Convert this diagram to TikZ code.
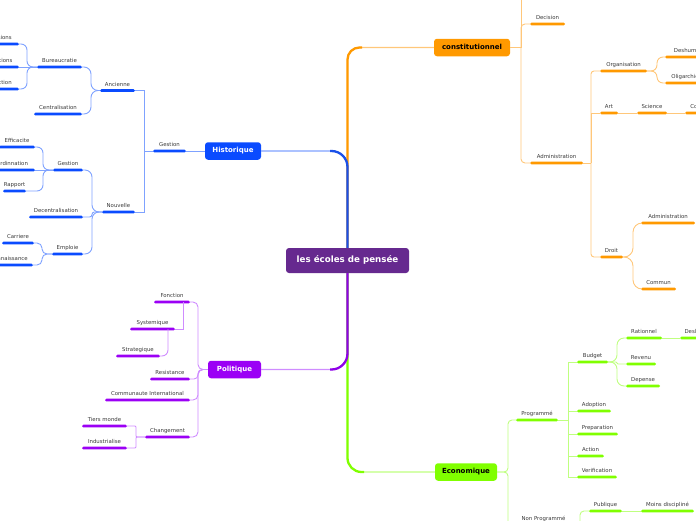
\documentclass[tikz,border=0pt]{standalone}
\usepackage{fontspec}
\setmainfont{DejaVu Sans}
\definecolor{cO}{HTML}{FF9900}
\definecolor{lO}{HTML}{FFC77A}
\definecolor{cB}{HTML}{0A4BFF}
\definecolor{sB}{HTML}{1A50E8}
\definecolor{lB}{HTML}{7FA2FF}
\definecolor{cP}{HTML}{9B00F5}
\definecolor{sP}{HTML}{8F00E8}
\definecolor{lP}{HTML}{CF8CFF}
\definecolor{cG}{HTML}{80FF00}
\definecolor{lG}{HTML}{BFFF80}
\definecolor{cR}{HTML}{66298F}
\definecolor{labelgray}{HTML}{3A3A3A}
\tikzset{
  lbl/.style={font=\fontsize{5.4}{6}\selectfont, text=labelgray, inner sep=0.8pt, text height=4pt, text depth=1pt},
  topic/.style={rectangle, rounded corners=1.3pt, fill=#1, minimum height=2.6pt, inner sep=0pt, outer sep=0pt},
  mainbox/.style={rectangle, rounded corners=3pt, fill=#1, inner sep=0pt, minimum height=17.5pt,
     font=\fontsize{7}{8}\selectfont\bfseries, text height=5.2pt, text depth=1.4pt},
  conn/.style={draw=#1, line width=0.9pt},
  trunkl/.style={draw=#1, line width=1.3pt},
  trunks/.style={draw=#1, line width=2.3pt},
}
\newcommand\tp[6]{\node[topic=#1, minimum width=#2pt, label={[lbl]above:#6}] (#3) at (#4,#5) {};}
\begin{document}
\begin{tikzpicture}[x=1pt,y=-1pt,label distance=1pt]
\useasboundingbox (0,0) rectangle (696,520);
\clip (0,0) rectangle (696,520);
% ---------- main boxes ----------
\node[mainbox=cR, text=white, minimum width=123pt, minimum height=25pt,
      font=\fontsize{8.7}{10}\selectfont\bfseries] (root) at (347.5,260.5) {les écoles de pensée};
\node[mainbox=cO, text=black, minimum width=76pt] (const) at (472,47.5) {constitutionnel};
\node[mainbox=cB, text=white, minimum width=56pt] (hist) at (233,151) {Historique};
\node[mainbox=cP, text=white, minimum width=53pt] (pol) at (234.5,369.5) {Politique};
\node[mainbox=cG, text=black, minimum width=62pt] (eco) at (466,472) {Economique};
% ---------- orange topics ----------
\tp{cO}{35}{decision}{547.5}{24}{Decision}
\tp{cO}{53}{adm1}{556.5}{163}{Administration}
\tp{cO}{47}{org}{623.5}{71}{Organisation}
\tp{cO}{65}{deshu}{697.5}{57}{Deshumanisation}
\tp{cO}{40}{olig}{685}{83}{Oligarchie}
\tp{cO}{18}{art}{609}{113}{Art}
\tp{cO}{30}{science}{652}{113}{Science}
\tp{cO}{48}{co}{709}{113}{Connaissance}
\tp{cO}{23}{droit}{611.5}{257}{Droit}
\tp{cO}{54}{adm2}{668}{223}{Administration}
\tp{cO}{35}{commun}{658.5}{289}{Commun}
% ---------- blue topics ----------
\tp{cB}{33}{gestion1}{169.5}{151}{Gestion}
\tp{cB}{35}{ancienne}{117.5}{90.5}{Ancienne}
\tp{cB}{33}{nouvelle}{118.5}{212}{Nouvelle}
\tp{cB}{45}{bureau}{59.5}{67}{Bureaucratie}
\tp{cB}{48}{central}{58}{114}{Centralisation}
\tp{cB}{39}{bA}{-0.5}{44}{Divisions}
\tp{cB}{39}{bB}{-0.5}{67}{Fonctions}
\tp{cB}{39}{bC}{-0.5}{89}{Direction}
\tp{cB}{30}{gestion2}{68}{170}{Gestion}
\tp{cB}{54}{decentral}{56}{217}{Decentralisation}
\tp{cB}{31}{emploie}{67.5}{254}{Emploie}
\tp{cB}{36}{effic}{17}{147}{Efficacite}
\tp{cB}{52}{coord}{9}{170}{Coordinnation}
\tp{cB}{23}{rapport}{14.5}{191}{Rapport}
\tp{cB}{32}{carriere}{18}{243}{Carriere}
\tp{cB}{54}{reconn}{6}{265}{Reconnaissance}
% ---------- purple topics ----------
\tp{cP}{36}{fonction}{172}{302}{Fonction}
\tp{cP}{45}{systemique}{152.5}{329}{Systemique}
\tp{cP}{44}{strategique}{138}{356}{Strategique}
\tp{cP}{40}{resistance}{170}{379}{Resistance}
\tp{cP}{85}{communaute}{147.5}{400}{Communaute International}
\tp{cP}{45}{changement}{167.5}{437}{Changement}
\tp{cP}{45}{tiers}{104.5}{426}{Tiers monde}
\tp{cP}{45}{indus}{104.5}{448}{Industrialise}
% ---------- green topics ----------
\tp{cG}{42}{programme}{537}{420}{Programmé}
\tp{cG}{31}{budget}{592.5}{362}{Budget}
\tp{cG}{34}{adoption}{594}{411}{Adoption}
\tp{cG}{41}{preparation}{597.5}{434}{Preparation}
\tp{cG}{27}{action}{590.5}{456}{Action}
\tp{cG}{40}{verification}{597}{477}{Verification}
\tp{cG}{36}{rationnel}{644}{338}{Rationnel}
\tp{cG}{30}{revenu}{641}{364}{Revenu}
\tp{cG}{34}{depense}{643}{386}{Depense}
\tp{cG}{50}{desl}{705}{338}{Deslocalisation}
\tp{cG}{55}{nonprog}{543.5}{525}{Non Programmé}
\tp{cG}{33}{publique}{605.5}{511}{Publique}
\tp{cG}{53}{moins}{667.5}{511}{Moins discipliné}
% ---------- coordinates ----------
\coordinate (jc) at (521,47.5);
\coordinate (ctop) at (521,-20);
\coordinate (ja) at (591,163);
\coordinate (jnp) at (580,525);
\coordinate (npbot) at (580,545);
% ---------- trunk connectors ----------
\draw[trunkl=lO, rounded corners=12pt] (root.north) |- (const.west);
\draw[trunks=cO, rounded corners=12pt] (root.north) |- (362,47.5);
\draw[trunkl=lB, rounded corners=16pt] (root.north) |- (hist.east);
\draw[trunks=sB, rounded corners=16pt] (root.north) |- (330,151);
\draw[trunkl=lG, rounded corners=14pt] (root.south) |- (eco.west);
\draw[trunks=cG, rounded corners=14pt] (root.south) |- (364,472);
\draw[trunkl=lP, rounded corners=16pt] (root.south) |- (pol.east);
\draw[trunks=sP, rounded corners=16pt] (root.south) |- (330,369.5);
% ---------- orange connectors ----------
\draw[conn=lO] (const.east) -- (jc);
\draw[conn=lO] (ctop) -- (jc);
\draw[conn=lO, rounded corners=4pt] (jc) |- (decision.west);
\draw[conn=lO, rounded corners=4pt] (jc) |- (adm1.west);
\draw[conn=lO] (adm1.east) -- (ja);
\draw[conn=lO, rounded corners=3pt] (ja) |- (org.west);
\draw[conn=lO] (ja) |- (art.west);
\draw[conn=lO, rounded corners=3pt] (ja) |- (droit.west);
\draw[conn=lO] (art.east) -- (science.west);
\draw[conn=lO] (science.east) -- (co.west);
\draw[conn=lO, rounded corners=6pt] (org.east) -- (657,71) |- (deshu.west);
\draw[conn=lO, rounded corners=6pt] (org.east) -- (657,71) |- (olig.west);
\draw[conn=lO, rounded corners=9pt] (droit.east) -- (633,257) |- (adm2.west);
\draw[conn=lO, rounded corners=9pt] (droit.east) -- (633,257) |- (commun.west);
% ---------- blue connectors ----------
\draw[conn=lB] (hist.west) -- (gestion1.east);
\draw[conn=lB] (gestion1.west) -- (144,151) |- (ancienne.east);
\draw[conn=lB] (gestion1.west) -- (144,151) |- (nouvelle.east);
\draw[conn=lB, rounded corners=7pt] (ancienne.west) -- (91,90.5) |- (bureau.east);
\draw[conn=lB, rounded corners=7pt] (ancienne.west) -- (91,90.5) |- (central.east);
\draw[conn=lB, rounded corners=6pt] (bureau.west) -- (27,67) |- (bA.east);
\draw[conn=lB] (bureau.west) -- (bB.east);
\draw[conn=lB, rounded corners=6pt] (bureau.west) -- (27,67) |- (bC.east);
\draw[conn=lB, rounded corners=7pt] (nouvelle.west) -- (92,212) |- (gestion2.east);
\draw[conn=lB, rounded corners=2.4pt] (nouvelle.west) -- (92,212) |- (decentral.east);
\draw[conn=lB, rounded corners=7pt] (nouvelle.west) -- (92,212) |- (emploie.east);
\draw[conn=lB, rounded corners=6pt] (gestion2.west) -- (43,170) |- (effic.east);
\draw[conn=lB] (gestion2.west) -- (coord.east);
\draw[conn=lB, rounded corners=6pt] (gestion2.west) -- (43,170) |- (rapport.east);
\draw[conn=lB, rounded corners=5pt] (emploie.west) -- (42,254) |- (carriere.east);
\draw[conn=lB, rounded corners=5pt] (emploie.west) -- (42,254) |- (reconn.east);
% ---------- purple connectors ----------
\draw[conn=lP, rounded corners=5pt] (pol.west) -- (198,369.5) |- (fonction.east);
\draw[conn=lP, rounded corners=4pt] (pol.west) -- (198,369.5) |- (resistance.east);
\draw[conn=lP, rounded corners=5pt] (pol.west) -- (198,369.5) |- (communaute.east);
\draw[conn=lP, rounded corners=5pt] (pol.west) -- (198,369.5) |- (changement.east);
\draw[conn=lP] ([xshift=-7pt]fonction.east) |- (systemique.east);
\draw[conn=lP, rounded corners=6pt] ([xshift=-7pt]systemique.east) |- (strategique.east);
\draw[conn=lP, rounded corners=1pt] (changement.west) -- (136,437) |- (tiers.east);
\draw[conn=lP, rounded corners=1pt] (changement.west) -- (136,437) |- (indus.east);
% ---------- green connectors ----------
\draw[conn=lG, rounded corners=4pt] (eco.east) -- (508,472) |- (programme.west);
\draw[conn=lG, rounded corners=4pt] (eco.east) -- (508,472) |- (nonprog.west);
\draw[conn=lG] (programme.east) -- (568,420) |- (budget.west);
\draw[conn=lG] (programme.east) -- (568,420) |- (adoption.west);
\draw[conn=lG] (programme.east) -- (568,420) |- (preparation.west);
\draw[conn=lG] (programme.east) -- (568,420) |- (action.west);
\draw[conn=lG] (programme.east) -- (568,420) |- (verification.west);
\draw[conn=lG, rounded corners=7pt] (budget.east) -- (617,362) |- (rationnel.west);
\draw[conn=lG, rounded corners=1pt] (budget.east) -- (617,362) |- (revenu.west);
\draw[conn=lG, rounded corners=7pt] (budget.east) -- (617,362) |- (depense.west);
\draw[conn=lG] (rationnel.east) -- (desl.west);
\draw[conn=lG] (nonprog.east) -- (jnp);
\draw[conn=lG, rounded corners=4pt] (jnp) |- (publique.west);
\draw[conn=lG] (jnp) -- (npbot);
\draw[conn=lG] (publique.east) -- (moins.west);
\end{tikzpicture}
\end{document}
